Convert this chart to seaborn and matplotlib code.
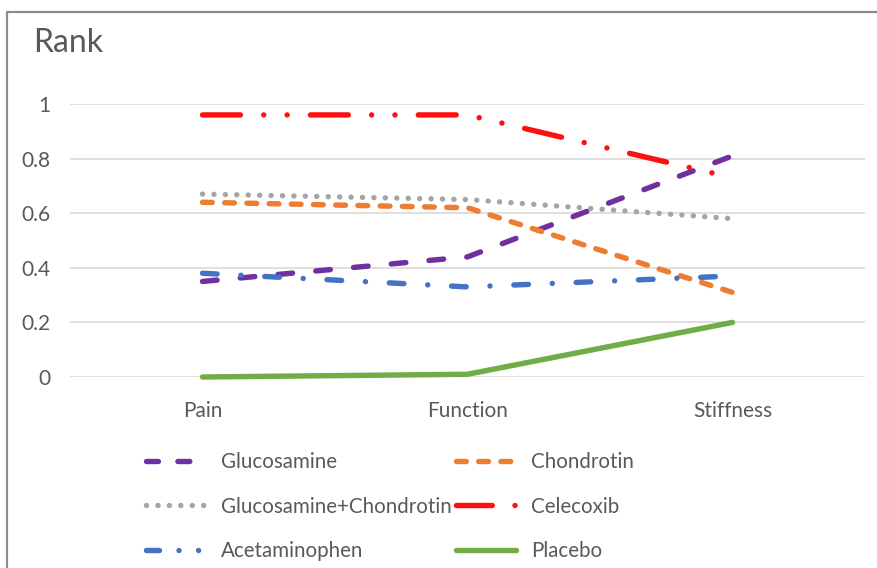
import matplotlib
matplotlib.use("Agg")
import matplotlib.pyplot as plt
from matplotlib.lines import Line2D
import seaborn as sns
import pandas as pd

categories = ["Pain", "Function", "Stiffness"]
series_names = ["Glucosamine", "Chondrotin", "Glucosamine+Chondrotin",
                "Celecoxib", "Acetaminophen", "Placebo"]
glucosamine = [0.35, 0.44, 0.81]
chondrotin = [0.64, 0.62, 0.31]
gluc_chond = [0.67, 0.65, 0.58]
celecoxib = [0.96, 0.96, 0.73]
acetaminophen = [0.38, 0.33, 0.37]
placebo = [0.0, 0.01, 0.20]
yticks = [0, 0.2, 0.4, 0.6, 0.8, 1]
ytick_labels = ["0", "0.2", "0.4", "0.6", "0.8", "1"]

values = [glucosamine, chondrotin, gluc_chond, celecoxib, acetaminophen, placebo]
rows = []
for name, vals in zip(series_names, values):
    for c, v in zip(categories, vals):
        rows.append({"Category": c, "Series": name, "Rank": v})
df = pd.DataFrame(rows)

palette = {
    "Glucosamine": "#7030A0",
    "Chondrotin": "#ED7D31",
    "Glucosamine+Chondrotin": "#A5A5A5",
    "Celecoxib": "#FF1010",
    "Acetaminophen": "#4472C4",
    "Placebo": "#70AD47",
}
dashes = {
    "Glucosamine": (2.7, 4.3),
    "Chondrotin": (1.8, 2.3),
    "Glucosamine+Chondrotin": (0.01, 2.1),
    "Celecoxib": (7.0, 4.3, 0.01, 4.3, 0.01, 4.3),
    "Acetaminophen": (2.7, 4.4, 0.01, 4.4),
    "Placebo": "",
}
legend_dashes = {
    "Glucosamine": (2.2, 3.6),
    "Chondrotin": (1.8, 2.3),
    "Glucosamine+Chondrotin": (0.01, 2.1),
    "Celecoxib": (6.6, 4.2, 0.01, 20),
    "Acetaminophen": (2.4, 3.6, 0.01, 3.6, 0.01, 20),
    "Placebo": "",
}
LW = 3.9

sns.set_theme(style="white")
plt.rcParams["font.family"] = ["Lato", "DejaVu Sans"]
text_color = "#595959"

fig = plt.figure(figsize=(8.77, 5.68), dpi=100)
W, H = 877, 568
ax = fig.add_axes([70 / W, 1 - 377 / H, (865 - 70) / W, (377 - 104) / H])

sns.lineplot(data=df, x="Category", y="Rank", hue="Series", style="Series",
             hue_order=series_names, style_order=series_names,
             palette=palette, dashes=dashes, linewidth=LW,
             dash_capstyle="round", solid_capstyle="round",
             legend=False, ax=ax, sort=False, clip_on=False, zorder=3)

ax.set_xlim(-0.5, 2.5)
ax.set_ylim(0, 1)
ax.set_yticks(yticks)
ax.set_yticklabels(ytick_labels)
ax.grid(axis="y", color="#D9D9D9", linewidth=1.2)
ax.grid(axis="x", visible=False)
ax.set_axisbelow(True)
for s in ax.spines.values():
    s.set_visible(False)
ax.tick_params(axis="y", length=0, pad=14, labelsize=15, labelcolor=text_color)
ax.tick_params(axis="x", length=0, pad=17, labelsize=15, labelcolor=text_color)
ax.set_xlabel("")
ax.set_ylabel("")

fig.text(33 / W, 1 - 43 / H, "Rank", fontsize=23, color=text_color,
         va="center", ha="left")

def make_handle(name):
    d = legend_dashes[name]
    ls = "-" if d == "" else (0, d)
    return Line2D([], [], color=palette[name], linewidth=LW, linestyle=ls,
                  dash_capstyle="round", solid_capstyle="round")

order = [0, 2, 4, 1, 3, 5]
handles = [make_handle(series_names[i]) for i in order]
labels = [series_names[i] for i in order]
leg = fig.legend(handles, labels,
                 ncol=2, frameon=False, loc="upper left",
                 bbox_to_anchor=(146 / W, 1 - 452 / H),
                 fontsize=14.8, handlelength=2.9, handletextpad=0.75,
                 columnspacing=0.2, labelspacing=1.2, borderpad=0,
                 borderaxespad=0)
for t in leg.get_texts():
    t.set_color(text_color)

fig.add_artist(Line2D([7 / W, 1], [1 - 12 / H, 1 - 12 / H], color="#8C8C8C",
                      linewidth=1.6, transform=fig.transFigure))
fig.add_artist(Line2D([7 / W, 7 / W], [0, 1 - 12 / H], color="#8C8C8C",
                      linewidth=1.6, transform=fig.transFigure))

fig.savefig("out.png", dpi=100, facecolor="white")
